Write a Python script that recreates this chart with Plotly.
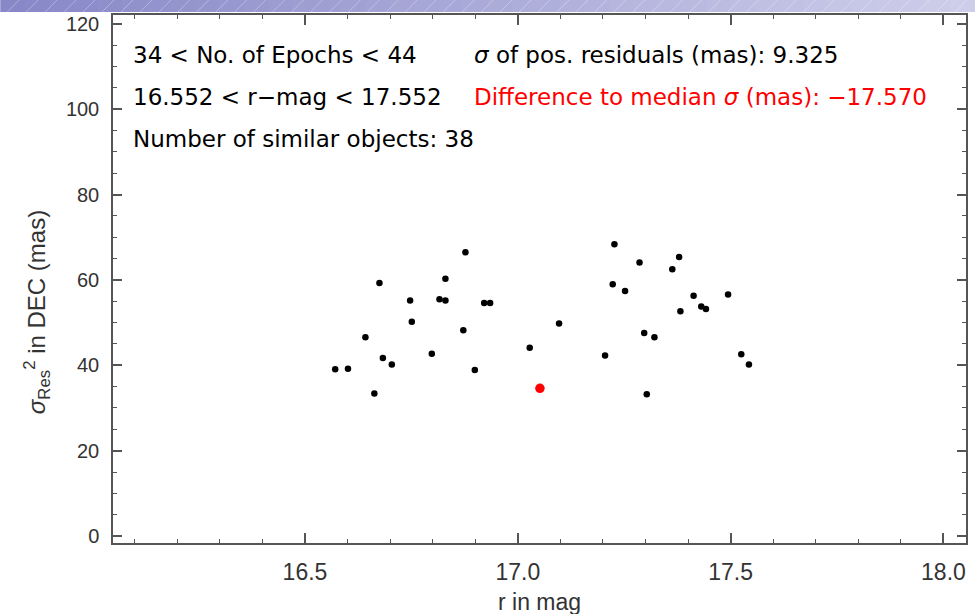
import plotly.graph_objects as go

# ---------------- data ----------------
r_mag = [16.877, 16.675, 16.830, 16.747, 16.816, 16.830, 16.921, 16.935, 16.751,
         16.872, 17.097, 16.642, 17.028, 16.683, 16.704, 16.798, 16.571, 16.601,
         16.899, 16.663, 17.227, 17.286, 17.379, 17.363, 17.223, 17.252, 17.413,
         17.494, 17.431, 17.442, 17.382, 17.297, 17.321, 17.205, 17.525, 17.543,
         17.303]
sigma_dec = [66.5, 59.3, 60.3, 55.2, 55.5, 55.2, 54.6, 54.6, 50.2,
             48.2, 49.8, 46.6, 44.1, 41.7, 40.2, 42.7, 39.1, 39.2,
             38.9, 33.4, 68.4, 64.1, 65.4, 62.5, 59.0, 57.4, 56.3,
             56.6, 53.8, 53.2, 52.7, 47.6, 46.6, 42.3, 42.6, 40.2,
             33.2]
target_r = [17.052]
target_sigma = [34.6]

x_range = [16.049, 18.053]
y_range = [-1.64, 122.1]

info_left = ["34 < No. of Epochs < 44",
             "16.552 < r\u2212mag < 17.552",
             "Number of similar objects: 38"]
info_right = ["<i>\u03c3</i> of pos. residuals (mas): 9.325",
              "Difference to median <i>\u03c3</i> (mas): \u221217.570"]
x_title = "r in mag"
y_title = "<i>\u03c3</i><sub>Res</sub><sup>2</sup> in DEC (mas)"

# ---------------- layout geometry ----------------
W, H = 976, 614
L, R, T, B = 113, 8, 15, 71
PW, PH = W - L - R, H - T - B


def px(xp):
    return (xp - L) / PW


def py(yp):
    return (H - B - yp) / PH


AX = "#555555"
fig = go.Figure()
fig.add_trace(go.Scatter(x=r_mag, y=sigma_dec, mode="markers",
                         marker=dict(color="black", size=6.5, line=dict(width=0)),
                         showlegend=False, hoverinfo="x+y"))
fig.add_trace(go.Scatter(x=target_r, y=target_sigma, mode="markers",
                         marker=dict(color="#ff0000", size=9.5, line=dict(width=0)),
                         showlegend=False, hoverinfo="x+y"))

xtickfont = dict(family="Liberation Sans, Arial, sans-serif", size=23, color="#333333")
ytickfont = dict(family="Liberation Sans, Arial, sans-serif", size=20, color="#333333")
fig.update_xaxes(range=x_range, tick0=16.5, dtick=0.5, tickformat=".1f",
                 ticks="inside", ticklen=10, tickwidth=1.5, tickcolor=AX,
                 showline=True, linecolor=AX, linewidth=1.5, mirror="allticks",
                 showgrid=False, zeroline=False, tickfont=xtickfont,
                 ticklabelstandoff=8,
                 minor=dict(ticks="inside", ticklen=4, tickwidth=1.2, tickcolor=AX,
                            tick0=16.0, dtick=0.1, showgrid=False))
fig.update_yaxes(range=y_range, tick0=0, dtick=20,
                 ticks="inside", ticklen=9, tickwidth=1.5, tickcolor=AX,
                 showline=True, linecolor=AX, linewidth=1.5, mirror="allticks",
                 showgrid=False, zeroline=False, tickfont=ytickfont,
                 ticklabelstandoff=8,
                 minor=dict(ticks="inside", ticklen=4, tickwidth=1.2, tickcolor=AX,
                            tick0=0, dtick=5, showgrid=False))

annfont = dict(family="DejaVu Sans, sans-serif", size=23, color="black")
rows_y = [55, 97, 139]
anns = []
for i, txt in enumerate(info_left):
    anns.append(dict(x=px(131), y=py(rows_y[i]), xref="paper", yref="paper",
                     text=txt, showarrow=False, xanchor="left", yanchor="middle",
                     font=annfont))
for i, txt in enumerate(info_right):
    f = dict(annfont)
    if i == 1:
        f["color"] = "#ff0000"
    anns.append(dict(x=px(473), y=py(rows_y[i]), xref="paper", yref="paper",
                     text=txt, showarrow=False, xanchor="left", yanchor="middle",
                     font=f))
xtitlefont = dict(family="Liberation Sans, Arial, sans-serif", size=23, color="#333333")
ytitlefont = dict(family="Liberation Sans, Arial, sans-serif", size=24, color="#333333")
anns.append(dict(x=px(540), y=py(602), xref="paper", yref="paper", text=x_title,
                 showarrow=False, xanchor="center", yanchor="middle", font=xtitlefont))
anns.append(dict(x=px(37), y=py(312), xref="paper", yref="paper", text=y_title,
                 textangle=-90, showarrow=False, xanchor="center", yanchor="middle",
                 font=ytitlefont))

# decorative slide banner at the top (gradient + hatch)
shapes = []
n = 40
c0 = (136, 136, 200)
c1 = (206, 206, 234)
for i in range(n):
    t = i / (n - 1)
    c = tuple(int(round(c0[k] + (c1[k] - c0[k]) * t)) for k in range(3))
    shapes.append(dict(type="rect", xref="paper", yref="paper",
                       x0=px(i * W / n), x1=px((i + 1) * W / n + 1),
                       y0=py(12), y1=py(0), line=dict(width=0),
                       fillcolor="rgb(%d,%d,%d)" % c, layer="above"))
xs = -12
while xs < W:
    shapes.append(dict(type="line", xref="paper", yref="paper",
                       x0=px(xs), y0=py(12), x1=px(xs + 12), y1=py(0),
                       line=dict(color="rgba(255,255,255,0.3)", width=1), layer="above"))
    xs += 19

fig.update_layout(width=W, height=H, margin=dict(l=L, r=R, t=T, b=B, pad=0),
                  paper_bgcolor="white", plot_bgcolor="white",
                  annotations=anns, shapes=shapes, showlegend=False)

fig.write_html("out.html")
